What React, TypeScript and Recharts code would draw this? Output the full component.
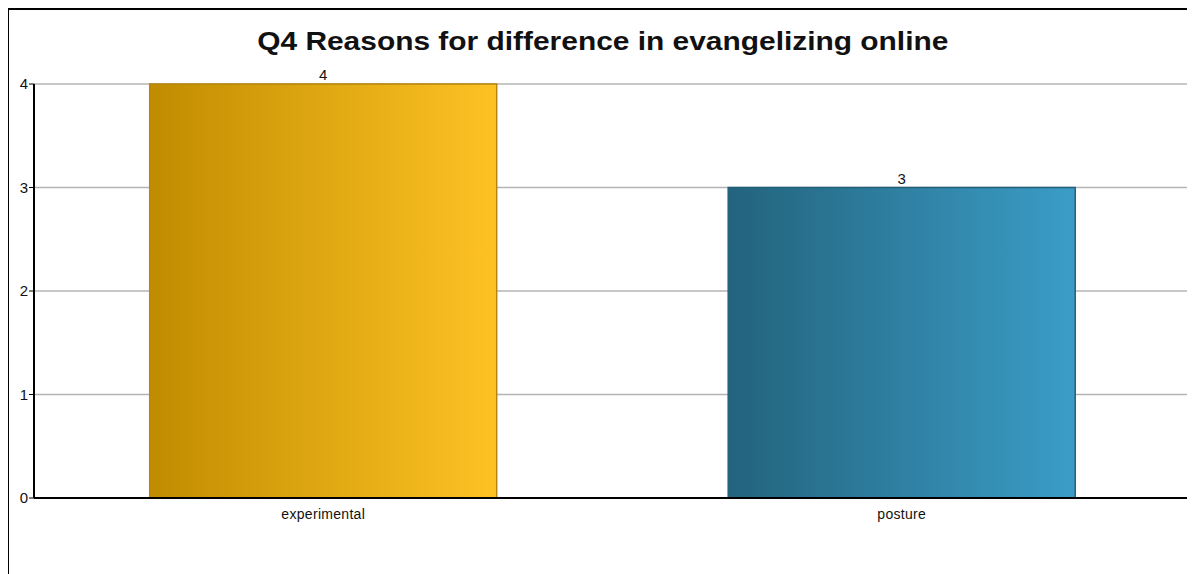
import { Bar, BarChart, CartesianGrid, Cell, LabelList, XAxis, YAxis } from 'recharts'

const categories = ['experimental', 'posture']
const counts = [4, 3]
const yTicks = [0, 1, 2, 3, 4]
const title = 'Q4 Reasons for difference in evangelizing online'

const gradients = [
  { id: 'goldGrad', from: '#c08c00', to: '#fec224', stroke: '#b8860b' },
  { id: 'blueGrad', from: '#23637d', to: '#3b9dc7', stroke: '#22607a' },
]

const data = categories.map((name, i) => ({ name, value: counts[i] }))

export default function App() {
  return (
    <div
      style={{
        position: 'relative',
        width: 1190,
        height: 570,
        marginLeft: -1,
        marginTop: -1,
        borderTop: '3px solid #000',
        borderLeft: '2px solid #000',
        boxSizing: 'border-box',
        overflow: 'hidden',
        fontFamily: '"Liberation Sans", Arial, sans-serif',
        background: '#fff',
      }}
    >
      <div
        style={{
          position: 'absolute',
          top: 16,
          left: 0,
          width: 1190,
          textAlign: 'center',
          fontSize: 26,
          fontWeight: 'bold',
          color: '#111',
          transform: 'scaleX(1.15)',
          transformOrigin: '603px 0',
        }}
      >
        {title}
      </div>
      <div style={{ position: 'absolute', left: 0, top: 0 }}>
        <BarChart
          width={1188}
          height={566}
          data={data}
          margin={{ top: 74, right: 6, bottom: 48, left: 0 }}
          barCategoryGap="20%"
        >
          <defs>
            {gradients.map((g) => (
              <linearGradient key={g.id} id={g.id} x1="0" y1="0" x2="1" y2="0">
                <stop offset="0%" stopColor={g.from} />
                <stop offset="100%" stopColor={g.to} />
              </linearGradient>
            ))}
          </defs>
          <CartesianGrid vertical={false} stroke="#b4b4b4" strokeWidth={1.5} />
          <XAxis
            dataKey="name"
            axisLine={{ stroke: '#000', strokeWidth: 2 }}
            tickLine={false}
            tick={{ fill: '#111', fontSize: 14, letterSpacing: 0.3 }}
            tickMargin={5}
            height={30}
          />
          <YAxis
            domain={[0, 4]}
            ticks={yTicks}
            width={25}
            axisLine={{ stroke: '#000', strokeWidth: 2 }}
            tickLine={{ stroke: '#000' }}
            tickSize={5}
            tickMargin={1}
            tick={{ fill: '#111', fontSize: 15 }}
          />
          <Bar dataKey="value" isAnimationActive={false}>
            {data.map((d, i) => (
              <Cell key={d.name} fill={`url(#${gradients[i].id})`} stroke={gradients[i].stroke} strokeWidth={1.5} />
            ))}
            <LabelList dataKey="value" position="top" offset={4} fill="#111" fontSize={15} />
          </Bar>
        </BarChart>
      </div>
    </div>
  )
}
